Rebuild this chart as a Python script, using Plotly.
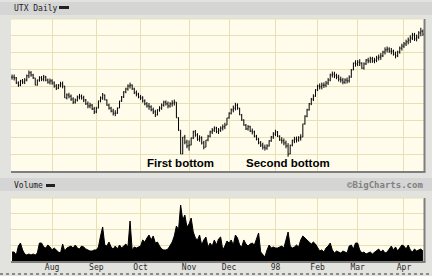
import plotly.graph_objects as go
import pandas as pd

# ---- data ----
close = [
    86.1, 85.9, 84.7, 84.2, 85.2, 84.9, 85.4, 86.4, 87.1, 86.6,
    85.9, 84.2, 85.4, 85.9, 85.6, 86.1, 85.4, 84.9, 85.2, 84.7,
    84.0, 83.5, 84.2, 84.5, 84.0, 81.2, 81.9, 81.6, 80.9, 80.2,
    80.7, 81.4, 81.6, 81.2, 80.7, 79.8, 79.3, 79.5, 78.6, 77.9,
    78.8, 80.5, 81.2, 81.9, 80.7, 79.5, 78.8, 78.1, 77.6, 77.6,
    78.8, 80.5, 81.4, 82.6, 83.3, 84.0, 84.2, 83.3, 82.4, 82.1,
    81.4, 81.2, 80.5, 79.8, 79.3, 79.1, 78.4, 77.9, 77.2, 78.4,
    78.8, 79.5, 80.2, 79.8, 79.3, 79.8, 80.0, 80.2, 76.5, 73.6,
    68.0, 72.0, 70.8, 69.9, 70.1, 71.8, 73.2, 72.5, 71.5, 71.8,
    70.6, 69.6, 71.3, 72.2, 73.2, 73.6, 74.1, 73.2, 73.6, 74.1,
    74.4, 74.8, 76.5, 77.6, 78.4, 78.8, 79.5, 78.8, 77.2, 76.0,
    74.8, 73.9, 74.4, 73.4, 73.2, 72.2, 71.5, 70.6, 70.1, 69.6,
    69.4, 69.9, 71.1, 72.0, 72.7, 73.2, 72.2, 71.3, 71.1, 70.6,
    69.9, 68.0, 70.1, 71.1, 71.5, 71.3, 71.8, 72.0, 75.1, 76.9,
    78.4, 79.8, 80.9, 81.6, 83.1, 84.0, 83.8, 84.2, 84.2, 84.7,
    85.4, 86.6, 86.8, 86.4, 86.1, 85.6, 85.4, 84.9, 85.4, 85.2,
    86.1, 87.8, 89.4, 89.2, 89.6, 89.4, 88.2, 89.2, 90.1, 89.9,
    90.4, 89.9, 90.1, 90.6, 90.8, 91.1, 92.0, 92.5, 92.7, 92.2,
    92.2, 91.5, 91.1, 92.0, 92.9, 93.4, 93.9, 94.4, 94.8, 95.3,
    96.0, 95.1, 95.5, 96.5, 96.9, 96.2,
]

bar_range = [
    1.2, 1.4, 1.6, 1.3, 1.5, 1.2, 1.4, 1.6, 1.8, 1.3,
    1.2, 1.7, 1.4, 1.3, 1.2, 1.5, 1.3, 1.2, 1.4, 1.3,
    1.5, 1.4, 1.2, 1.3, 1.6, 2.2, 1.4, 1.3, 1.5, 1.6,
    1.2, 1.4, 1.3, 1.2, 1.5, 1.4, 1.6, 1.3, 1.4, 1.7,
    1.5, 1.8, 1.4, 1.6, 1.3, 1.5, 1.4, 1.3, 1.6, 1.4,
    1.5, 1.7, 1.4, 1.6, 1.3, 1.5, 1.4, 1.3, 1.5, 1.4,
    1.3, 1.2, 1.5, 1.4, 1.3, 1.6, 1.4, 1.5, 1.7, 1.4,
    1.3, 1.5, 1.4, 1.2, 1.6, 1.3, 1.5, 1.4, 3.0, 3.2,
    4.0, 2.8, 2.2, 2.0, 2.4, 1.8, 2.0, 1.6, 1.8, 1.5,
    1.9, 2.0, 1.7, 1.5, 1.6, 1.4, 1.3, 1.5, 1.4, 1.3,
    1.4, 1.5, 1.6, 1.5, 1.4, 1.6, 1.8, 1.5, 1.7, 1.6,
    1.5, 1.4, 1.3, 1.5, 1.4, 1.6, 1.3, 1.5, 1.4, 1.6,
    1.4, 1.3, 1.5, 1.4, 1.6, 1.5, 1.4, 1.3, 1.5, 1.6,
    1.8, 3.2, 2.2, 1.6, 1.5, 1.4, 1.3, 1.5, 2.4, 2.2,
    2.0, 1.8, 1.7, 1.6, 1.8, 1.5, 1.4, 1.6, 1.3, 1.5,
    1.6, 1.8, 1.4, 1.5, 1.3, 1.6, 1.4, 1.5, 1.3, 1.4,
    1.7, 2.0, 1.8, 1.5, 1.4, 1.6, 1.5, 1.7, 1.4, 1.3,
    1.5, 1.4, 1.3, 1.5, 1.4, 1.6, 1.5, 1.7, 1.4, 1.3,
    1.5, 1.4, 1.6, 1.5, 1.7, 1.6, 1.4, 1.5, 1.6, 1.8,
    1.7, 1.9, 1.6, 1.8, 2.0, 1.5,
]

volume = [
    570, 570, 380, 950, 1140, 700, 445, 380, 445, 380,
    445, 380, 510, 1140, 1140, 890, 825, 1015, 890, 700,
    825, 700, 570, 510, 1080, 635, 825, 890, 950, 825,
    1015, 825, 760, 950, 890, 760, 700, 635, 635, 700,
    700, 890, 1590, 2160, 1015, 950, 1205, 890, 760, 950,
    760, 1015, 825, 950, 1080, 890, 2540, 700, 890, 825,
    890, 950, 1335, 1205, 1460, 1650, 1335, 1590, 1140, 1205,
    950, 760, 700, 700, 760, 950, 1205, 1590, 2220, 1970,
    3555, 2600, 2920, 2160, 2350, 2730, 1840, 1460, 1335, 1650,
    1015, 1335, 1525, 890, 1140, 950, 1335, 1015, 1400, 1525,
    700, 950, 1270, 1140, 1335, 1015, 1650, 1460, 1015, 890,
    1335, 1080, 950, 1080, 1140, 1015, 1460, 1780, 570, 380,
    255, 700, 1015, 825, 890, 825, 825, 890, 950, 825,
    1335, 1840, 950, 825, 890, 1015, 890, 1335, 1590, 1460,
    1270, 1205, 1080, 1205, 1080, 825, 635, 700, 570, 825,
    950, 1140, 700, 510, 635, 570, 510, 635, 570, 510,
    950, 1015, 760, 1140, 1140, 700, 510, 570, 445, 510,
    570, 445, 570, 635, 760, 570, 700, 510, 570, 760,
    950, 700, 890, 635, 825, 1015, 950, 760, 1015, 700,
    570, 760, 635, 700, 760, 635,
]

holidays = ["1997-07-04", "1997-09-01", "1997-11-27", "1997-12-25",
            "1998-01-01", "1998-01-19", "1998-02-16", "1998-04-10"]
days = [d.strftime("%Y-%m-%d") for d in pd.bdate_range("1997-07-07", "1998-04-15")
        if d.strftime("%Y-%m-%d") not in holidays]

month_ticks = ["1997-08-01", "1997-09-02", "1997-10-01", "1997-11-03", "1997-12-01",
               "1998-01-02", "1998-02-02", "1998-03-02", "1998-04-01"]
month_labels = ["Aug", "Sep", "Oct", "Nov", "Dec", "98", "Feb", "Mar", "Apr"]

bottoms = [("First bottom", 80), ("Second bottom", 131)]

# ---- derived OHLC ----
opens = [close[0]] + close[:-1]
highs, lows = [], []
for o, c, r in zip(opens, close, bar_range):
    mid = (o + c) / 2
    highs.append(max(o, c, mid + r / 2))
    lows.append(min(o, c, mid - r / 2))

W, H = 432, 276
def px(x): return x / W
def py(y): return 1 - y / H

BG = "#FFFCEC"
GRID = "#E6E0B4"
PAPER = "#E2E2DE"

fig = go.Figure()
fig.add_trace(go.Ohlc(
    x=days, open=opens, high=highs, low=lows, close=close,
    increasing=dict(line=dict(color="black", width=1)),
    decreasing=dict(line=dict(color="black", width=1)),
    tickwidth=0.35, xaxis="x", yaxis="y", showlegend=False, hoverinfo="skip"))
fig.add_trace(go.Scatter(
    x=days, y=volume, mode="lines", fill="tozeroy",
    line=dict(color="black", width=1), fillcolor="black",
    xaxis="x2", yaxis="y2", showlegend=False, hoverinfo="skip"))

xcommon = dict(type="category", range=[-0.5, len(days) - 0.5],
               tickmode="array", tickvals=month_ticks, ticktext=month_labels,
               showgrid=True, gridcolor=GRID, gridwidth=1, zeroline=False,
               showline=False, ticks="", domain=[px(11), px(424)], fixedrange=True)

fig.update_layout(
    width=W, height=H, margin=dict(l=0, r=0, t=0, b=0),
    paper_bgcolor=PAPER, plot_bgcolor=BG,
    xaxis=dict(xcommon, anchor="y", showticklabels=False,
               rangeslider=dict(visible=False)),
    yaxis=dict(domain=[py(171), py(19)], range=[64, 64 + 152 / 4.25],
               tick0=64, dtick=4, showticklabels=False, showgrid=True,
               gridcolor=GRID, zeroline=False, ticks=""),
    xaxis2=dict(xcommon, anchor="y2", showticklabels=True,
                tickfont=dict(family="DejaVu Sans Mono", size=8, color="#2a2a2a")),
    yaxis2=dict(domain=[py(261), py(198)], range=[0, 4000], dtick=1000,
                showticklabels=False, showgrid=True, gridcolor=GRID,
                zeroline=False, ticks=""),
)

shapes = [
    # header bars
    dict(type="rect", xref="paper", yref="paper", x0=0, x1=1, y0=py(15), y1=py(2),
         fillcolor="#D5D5D5", line=dict(width=0), layer="below"),
    dict(type="rect", xref="paper", yref="paper", x0=0, x1=1, y0=py(191), y1=py(178),
         fillcolor="#D5D5D5", line=dict(width=0), layer="below"),
    # legend dashes
    dict(type="rect", xref="paper", yref="paper", x0=px(59), x1=px(69), y0=py(9), y1=py(6),
         fillcolor="#222", line=dict(width=0)),
    dict(type="rect", xref="paper", yref="paper", x0=px(46), x1=px(55), y0=py(187), y1=py(184),
         fillcolor="#222", line=dict(width=0)),
    # plot frame shadows
    dict(type="line", xref="paper", yref="paper", x0=px(424.5), x1=px(424.5), y0=py(172), y1=py(19),
         line=dict(color="#7E7E7E", width=2)),
    dict(type="line", xref="paper", yref="paper", x0=px(11), x1=px(425.5), y0=py(172), y1=py(172),
         line=dict(color="#7E7E7E", width=2)),
    dict(type="line", xref="paper", yref="paper", x0=px(424.5), x1=px(424.5), y0=py(262), y1=py(198),
         line=dict(color="#7E7E7E", width=2)),
    dict(type="line", xref="paper", yref="paper", x0=px(11), x1=px(425.5), y0=py(262), y1=py(262),
         line=dict(color="#7E7E7E", width=2)),
    # plot frame light edges
    dict(type="line", xref="paper", yref="paper", x0=px(11), x1=px(424), y0=py(19), y1=py(19),
         line=dict(color=GRID, width=1)),
    dict(type="line", xref="paper", yref="paper", x0=px(11), x1=px(424), y0=py(198), y1=py(198),
         line=dict(color=GRID, width=1)),
    # outer bottom border
    dict(type="line", xref="paper", yref="paper", x0=0, x1=1, y0=py(274), y1=py(274),
         line=dict(color="#8A8A8A", width=2, dash="dot")),
]
fig.update_layout(shapes=shapes)

ann = [
    dict(text="UTX Daily", x=px(12), y=py(8.5), xref="paper", yref="paper",
         xanchor="left", yanchor="middle", showarrow=False,
         font=dict(family="DejaVu Sans Mono", size=8, color="#222")),
    dict(text="Volume", x=px(12), y=py(185.5), xref="paper", yref="paper",
         xanchor="left", yanchor="middle", showarrow=False,
         font=dict(family="DejaVu Sans Mono", size=8, color="#222")),
    dict(text="<b>©BigCharts.com</b>", x=px(425), y=py(185), xref="paper", yref="paper",
         xanchor="right", yanchor="middle", showarrow=False,
         font=dict(family="DejaVu Sans Mono", size=9, color="#808080")),
]
for label, idx in bottoms:
    ann.append(dict(text="<b>%s</b>" % label, x=days[idx], y=64 + 8 / 4.25,
                    xref="x", yref="y", xanchor="center", yanchor="middle",
                    showarrow=False,
                    font=dict(family="Liberation Sans, Arial", size=11.5, color="black")))
fig.update_layout(annotations=ann)

fig.write_html("out.html")
